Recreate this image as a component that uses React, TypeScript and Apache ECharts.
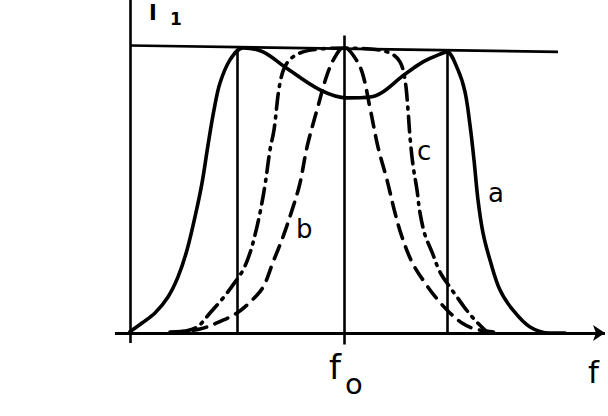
import React, { useEffect, useRef } from "react";
import * as echarts from "echarts";

// x: frequency offset from f0 (arbitrary units), y: intensity in % of I1 maximum
const curveA: [number, number][] = [
  [-214, 0.5], [-202, 3.5], [-189, 7], [-176, 12.6], [-166, 19.6], [-157, 29], [-149, 40.6],
  [-142, 52.4], [-136, 65.7], [-130, 78], [-124, 87.4], [-114, 95.5], [-101, 99.7],
  [-81, 98.3], [-59, 93], [-24, 85], [3, 82.2], [26, 82.5], [63, 91], [79, 94.8], [99, 97.9],
  [103, 98.3], [114, 92], [121, 84.3], [126, 72.7], [130, 60.5], [134, 46.5], [139, 35],
  [146, 25.5], [156, 15], [169, 8], [186, 2.1], [206, 0], [221, 0],
];

const curveB: [number, number][] = [
  [-174, 0.3], [-144, 1.4], [-121, 4.5], [-107, 7], [-94, 10.8], [-81, 16], [-71, 24.8],
  [-61, 33.6], [-51, 44], [-44, 52.4], [-37, 65], [-27, 78], [-17, 90.2], [-9, 96.5],
  [0, 100], [9, 97.2], [18, 91.3], [26, 78.7], [34, 65], [43, 53.5], [51, 42], [58, 33.6],
  [68, 24.8], [81, 17.5], [94, 11.5], [106, 7], [118, 3.5], [131, 1.4], [151, 0.3],
];

const curveC: [number, number][] = [
  [-164, 0.3], [-147, 2.1], [-134, 7], [-121, 12.2], [-109, 17.8], [-101, 22], [-94, 28],
  [-89, 34.3], [-84, 42], [-79, 51.7], [-74, 64], [-70, 71], [-64, 87.4], [-57, 94.4],
  [-44, 97.9], [-24, 99.3], [0, 99.6], [26, 99.3], [46, 97.9], [56, 94.8], [61, 88.5],
  [64, 78], [66, 68.5], [69, 58.7], [73, 50], [76, 42], [81, 34.3], [88, 28.3], [96, 21.3],
  [106, 16], [113, 12.6], [121, 8.7], [131, 4.5], [143, 0.3],
];

// guide lines: [x1, y1, x2, y2]
const guideLines: [number, number, number, number][] = [
  [-214, -3.5, -214, 116.4], // ordinate
  [-214, 100.5, 214, 98.3], // I1 level
  [0, -4, 0, 104], // f0
  [-107, 0, -107, 99], // left band edge
  [103, 0, 103, 98.5], // right band edge
];
const abscissa: [number, number, number, number] = [-229, 0, 261, 0];

export default function App() {
  const ref = useRef<HTMLDivElement>(null);
  useEffect(() => {
    if (!ref.current) return;
    const chart = echarts.init(ref.current, undefined, { renderer: "svg" });
    const lineStyleBase = { color: "#000", width: 3.6, cap: "round" as const, join: "round" as const };
    const txt = (left: number, top: number, text: string, size: number, weight = "normal") => ({
      type: "text",
      left,
      top,
      style: { text, font: `${weight} ${size}px 'DejaVu Sans'`, fill: "#000" },
    });
    chart.setOption({
      animation: false,
      backgroundColor: "#fff",
      grid: { left: 0, right: 0, top: 0, bottom: 0 },
      xAxis: { type: "value", min: -344, max: 264, show: false },
      yAxis: { type: "value", min: -29.02, max: 116.43, show: false },
      graphic: [
        txt(149, 2, "I", 21, "bold"),
        txt(170, 10, "1", 17, "bold"),
        txt(329, 350, "f", 34),
        txt(345, 369, "o", 29),
        txt(588, 356, "f", 31),
        txt(488, 180, "a", 26),
        txt(296, 216, "b", 26),
        txt(417, 138, "c", 26),
      ],
      series: [
        {
          name: "guides",
          type: "line",
          data: [],
          silent: true,
          markLine: {
            silent: true,
            symbol: ["none", "none"],
            label: { show: false },
            lineStyle: { color: "#000", width: 2.6, type: "solid" },
            data: guideLines.map(([x1, y1, x2, y2]) => [{ coord: [x1, y1] }, { coord: [x2, y2] }]),
          },
        },
        {
          name: "axis",
          type: "line",
          data: [],
          silent: true,
          markLine: {
            silent: true,
            symbol: ["none", "arrow"],
            symbolSize: 12,
            label: { show: false },
            lineStyle: { color: "#000", width: 3, type: "solid" },
            data: [[{ coord: [abscissa[0], abscissa[1]] }, { coord: [abscissa[2], abscissa[3]] }]],
          },
        },
        {
          name: "a",
          type: "line",
          data: curveA,
          smooth: 0.35,
          showSymbol: false,
          lineStyle: { ...lineStyleBase, type: "solid" },
        },
        {
          name: "b",
          type: "line",
          data: curveB,
          smooth: 0.35,
          showSymbol: false,
          lineStyle: { ...lineStyleBase, type: [14, 9] },
        },
        {
          name: "c",
          type: "line",
          data: curveC,
          smooth: 0.35,
          showSymbol: false,
          lineStyle: { ...lineStyleBase, type: [16, 7, 2, 7] },
        },
      ],
    });
    return () => chart.dispose();
  }, []);
  return (
    <div
      ref={ref}
      style={{ position: "fixed", left: 0, top: 0, width: 608, height: 416, background: "#fff" }}
    />
  );
}
